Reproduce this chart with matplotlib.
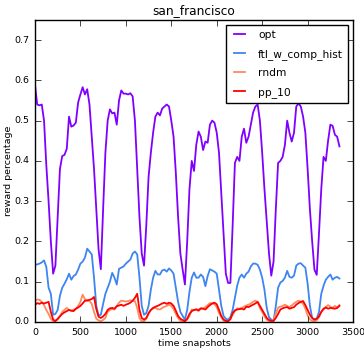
import matplotlib
matplotlib.use("Agg")
import matplotlib.pyplot as plt
import numpy as np

plt.style.use("classic")
plt.rcParams["font.family"] = ["DejaVu Sans"]

x_snap = list(range(0, 3351, 25))

opt = [0.59, 0.54, 0.538, 0.54, 0.50, 0.39, 0.30, 0.20, 0.12, 0.14, 0.26, 0.38, 0.412, 0.415, 0.43, 0.51,
       0.485, 0.488, 0.495, 0.545, 0.565, 0.583, 0.565, 0.578, 0.54, 0.46, 0.38, 0.28, 0.18, 0.131, 0.28, 0.42,
       0.50, 0.528, 0.518, 0.52, 0.49, 0.55, 0.575, 0.567, 0.567, 0.565, 0.568, 0.56, 0.50, 0.38, 0.26, 0.17,
       0.14, 0.24, 0.36, 0.42, 0.47, 0.51, 0.52, 0.513, 0.53, 0.535, 0.54, 0.535, 0.50, 0.46, 0.37, 0.26,
       0.17, 0.13, 0.093, 0.20, 0.33, 0.40, 0.375, 0.44, 0.473, 0.46, 0.427, 0.448, 0.445, 0.49, 0.50, 0.495,
       0.47, 0.42, 0.32, 0.22, 0.12, 0.097, 0.097, 0.24, 0.395, 0.41, 0.40, 0.46, 0.48, 0.445, 0.46, 0.49,
       0.52, 0.535, 0.54, 0.50, 0.42, 0.33, 0.25, 0.17, 0.115, 0.15, 0.28, 0.395, 0.40, 0.41, 0.44, 0.50,
       0.47, 0.448, 0.47, 0.535, 0.543, 0.535, 0.51, 0.47, 0.38, 0.28, 0.20, 0.13, 0.117, 0.22, 0.33, 0.41,
       0.40, 0.45, 0.49, 0.487, 0.465, 0.46, 0.436]

ftl_w_comp_hist = [0.142, 0.143, 0.145, 0.148, 0.153, 0.137, 0.085, 0.07, 0.018, 0.02, 0.03, 0.065, 0.085, 0.095, 0.106, 0.12,
       0.105, 0.114, 0.118, 0.13, 0.145, 0.15, 0.16, 0.182, 0.175, 0.168, 0.11, 0.04, 0.016, 0.018, 0.045, 0.07,
       0.085, 0.10, 0.122, 0.11, 0.093, 0.132, 0.135, 0.138, 0.145, 0.15, 0.155, 0.17, 0.175, 0.168, 0.11, 0.04,
       0.018, 0.022, 0.04, 0.08, 0.11, 0.127, 0.118, 0.118, 0.128, 0.13, 0.125, 0.133, 0.128, 0.12, 0.085, 0.05,
       0.025, 0.015, 0.006, 0.03, 0.075, 0.11, 0.123, 0.11, 0.11, 0.118, 0.112, 0.089, 0.114, 0.131, 0.128, 0.125,
       0.12, 0.08, 0.04, 0.015, 0.008, 0.006, 0.012, 0.03, 0.06, 0.09, 0.11, 0.118, 0.11, 0.12, 0.125, 0.138,
       0.145, 0.145, 0.142, 0.13, 0.11, 0.08, 0.035, 0.012, 0.006, 0.002, 0.04, 0.085, 0.098, 0.102, 0.11, 0.127,
       0.112, 0.11, 0.115, 0.14, 0.145, 0.146, 0.14, 0.135, 0.095, 0.04, 0.01, 0.006, 0.008, 0.025, 0.07, 0.09,
       0.105, 0.112, 0.118, 0.105, 0.11, 0.112, 0.108]

rndm = [0.052, 0.056, 0.055, 0.05, 0.042, 0.03, 0.02, 0.008, 0.002, 0.004, 0.006, 0.015, 0.025, 0.03, 0.035, 0.03,
       0.028, 0.031, 0.032, 0.04, 0.05, 0.068, 0.056, 0.055, 0.052, 0.045, 0.025, 0.008, 0.004, 0.002, 0.005, 0.01,
       0.025, 0.03, 0.032, 0.031, 0.04, 0.048, 0.053, 0.052, 0.051, 0.052, 0.054, 0.052, 0.052, 0.035, 0.01, 0.002,
       0.002, 0.008, 0.02, 0.03, 0.034, 0.035, 0.032, 0.031, 0.035, 0.038, 0.04, 0.043, 0.04, 0.032, 0.02, 0.01,
       0.003, 0.002, 0.002, 0.006, 0.015, 0.031, 0.029, 0.032, 0.031, 0.033, 0.034, 0.037, 0.042, 0.047, 0.046, 0.044,
       0.037, 0.022, 0.012, 0.003, 0.002, 0.002, 0.008, 0.018, 0.027, 0.034, 0.033, 0.035, 0.038, 0.041, 0.043, 0.046,
       0.05, 0.053, 0.049, 0.035, 0.025, 0.014, 0.006, 0.002, 0.002, 0.006, 0.02, 0.036, 0.038, 0.04, 0.043, 0.04,
       0.037, 0.041, 0.046, 0.05, 0.053, 0.05, 0.045, 0.033, 0.016, 0.006, 0.003, 0.002, 0.004, 0.012, 0.026, 0.034,
       0.037, 0.042, 0.038, 0.035, 0.04, 0.036, 0.042]

pp_10 = [0.042, 0.047, 0.045, 0.048, 0.046, 0.048, 0.05, 0.025, 0.006, 0.002, 0.008, 0.014, 0.02, 0.024, 0.027, 0.03,
       0.028, 0.027, 0.033, 0.036, 0.04, 0.046, 0.053, 0.053, 0.055, 0.057, 0.062, 0.032, 0.013, 0.01, 0.014, 0.02,
       0.03, 0.034, 0.035, 0.033, 0.039, 0.041, 0.043, 0.04, 0.043, 0.045, 0.048, 0.053, 0.06, 0.07, 0.03, 0.01,
       0.006, 0.01, 0.022, 0.03, 0.035, 0.038, 0.04, 0.043, 0.046, 0.048, 0.045, 0.048, 0.046, 0.04, 0.028, 0.015,
       0.008, 0.005, 0.002, 0.008, 0.02, 0.027, 0.03, 0.031, 0.028, 0.034, 0.033, 0.031, 0.037, 0.042, 0.046, 0.048,
       0.044, 0.03, 0.015, 0.006, 0.003, 0.002, 0.007, 0.022, 0.029, 0.031, 0.032, 0.033, 0.031, 0.038, 0.037, 0.04,
       0.043, 0.046, 0.05, 0.04, 0.03, 0.02, 0.01, 0.005, 0.003, 0.003, 0.01, 0.02, 0.031, 0.034, 0.036, 0.037,
       0.033, 0.035, 0.037, 0.043, 0.047, 0.05, 0.052, 0.042, 0.03, 0.018, 0.01, 0.006, 0.008, 0.014, 0.025, 0.032,
       0.036, 0.033, 0.035, 0.034, 0.033, 0.035, 0.04]

series_names = ["opt", "ftl_w_comp_hist", "rndm", "pp_10"]
series_colors = ["#8000ff", "#3d85f0", "#ff8a5c", "#ff0000"]
series_data = [opt, ftl_w_comp_hist, rndm, pp_10]

fig = plt.figure(figsize=(3.64, 3.5), dpi=100, facecolor="white")
ax = fig.add_axes([0.096, 0.08, 0.874, 0.863])
ax.set_facecolor("white")

for name, col, vals in zip(series_names, series_colors, series_data):
    ax.plot(x_snap, vals, color=col, lw=1.3, label=name)

ax.set_xlim(0, 3500)
ax.set_ylim(0, 0.75)
ax.set_xticks([0, 500, 1000, 1500, 2000, 2500, 3000, 3500])
ax.set_yticks([0.0, 0.1, 0.2, 0.3, 0.4, 0.5, 0.6, 0.7])
ax.tick_params(labelsize=6.8, direction="in", length=4, top=True, right=True, pad=4)
ax.set_title("san_francisco", fontsize=8.7, pad=4)
ax.set_xlabel("time snapshots", fontsize=6.8, labelpad=1.5)
ax.set_ylabel("reward percentage", fontsize=6.8)
ax.yaxis.set_label_coords(-0.068, 0.5)

leg = ax.legend(loc="upper right", fontsize=7.7, frameon=True, fancybox=False,
                handlelength=1.6, handletextpad=0.9, labelspacing=0.8, borderpad=0.5,
                borderaxespad=0.45)
leg.get_frame().set_edgecolor("black")

fig.savefig("out.png", dpi=100, facecolor="white")
